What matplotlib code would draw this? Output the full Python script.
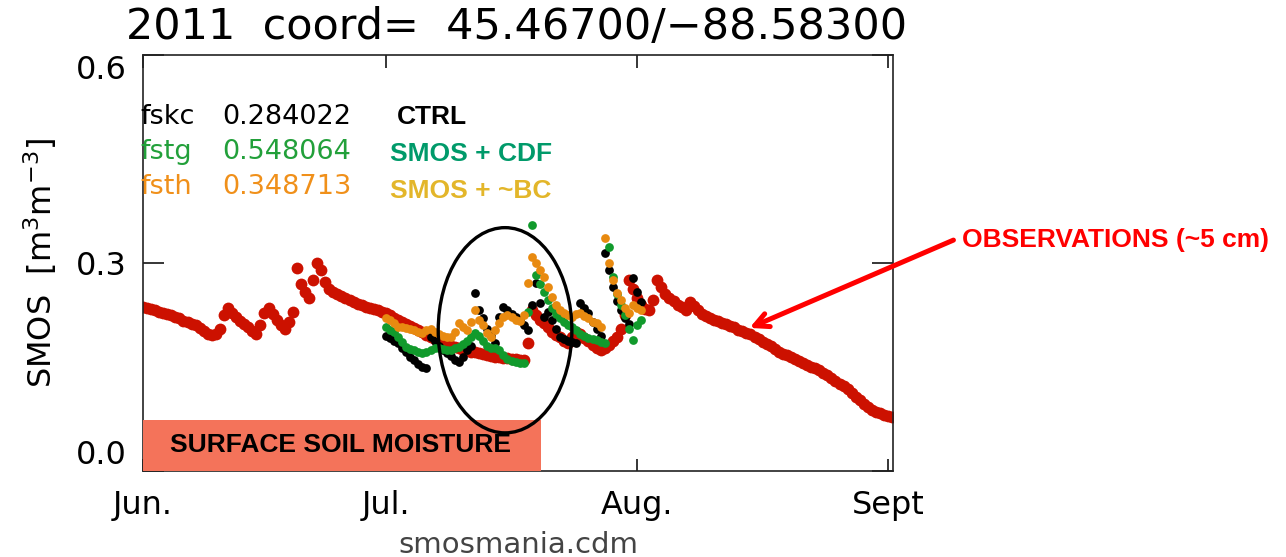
import numpy as np
import matplotlib
matplotlib.use('Agg')
import matplotlib.pyplot as plt
from matplotlib.patches import Ellipse, Rectangle

W, H = 1286, 557

# observations (~5 cm), every half day from 1 June
obs_sm = [0.237, 0.235, 0.233, 0.232, 0.230, 0.228, 0.227, 0.225, 0.222, 0.220,
          0.217, 0.215, 0.212, 0.210, 0.206, 0.202, 0.198, 0.196,
          0.197, 0.205, 0.225, 0.235,
          0.228, 0.222, 0.216, 0.212, 0.207, 0.202, 0.197,
          0.210, 0.228, 0.235,
          0.226, 0.218, 0.210, 0.205,
          0.215, 0.229, 0.293,
          0.270, 0.258, 0.250,
          0.275, 0.300, 0.290, 0.272,
          0.262, 0.258, 0.255, 0.252, 0.250, 0.247, 0.244, 0.241, 0.239, 0.237,
          0.235, 0.233, 0.232, 0.230, 0.228, 0.225, 0.221, 0.218,
          0.215, 0.212, 0.209, 0.206, 0.203, 0.200, 0.196, 0.193,
          0.190, 0.188, 0.186, 0.184, 0.181, 0.179, 0.177, 0.175,
          0.174, 0.172, 0.171, 0.170, 0.169, 0.168, 0.166, 0.165,
          0.164, 0.163, 0.163, 0.162, 0.161, 0.160, 0.160, 0.185,
          0.232, 0.225, 0.218, 0.213, 0.207, 0.201, 0.196, 0.193, 0.188, 0.185,
          0.193, 0.200, 0.197, 0.192, 0.187, 0.182, 0.178, 0.175,
          0.178, 0.182, 0.188, 0.193, 0.205, 0.225,
          0.275, 0.262, 0.250, 0.240, 0.233, 0.232,
          0.247, 0.275, 0.265, 0.256, 0.249, 0.245, 0.240, 0.236, 0.232,
          0.244, 0.238, 0.232, 0.227, 0.223, 0.220, 0.218,
          0.216, 0.214, 0.212, 0.209, 0.207, 0.204, 0.202, 0.199,
          0.197, 0.193, 0.190, 0.186, 0.183, 0.180, 0.176, 0.172,
          0.169, 0.167, 0.165, 0.162, 0.159, 0.156, 0.153, 0.150,
          0.148, 0.145, 0.141, 0.138, 0.134, 0.130, 0.126, 0.122,
          0.118, 0.112, 0.107, 0.102, 0.097, 0.092, 0.088,
          0.085, 0.083, 0.081, 0.079, 0.078]

# model runs, every half day from 1 July (day 30)
ctrl_sm = [0.195, 0.192, 0.188, 0.185, 0.178, 0.172, 0.165, 0.160, 0.155, 0.150, 0.148,
           0.193, 0.188, 0.180, 0.175, 0.170, 0.166, 0.160, 0.157,
           0.165, 0.175, 0.180,
           0.257, 0.232, 0.220, 0.205, 0.195, 0.185,
           0.222, 0.237, 0.232, 0.226, 0.222, 0.218, 0.210, 0.203,
           0.240, 0.271, 0.242, 0.222, 0.230, 0.218, 0.205, 0.193,
           0.190, 0.188, 0.186, 0.185,
           0.242, 0.235, 0.228, 0.215, 0.205, 0.195,
           0.314, 0.290, 0.265, 0.245, 0.232, 0.220, 0.212, 0.278, 0.258, 0.244]
cdf_sm = [0.208, 0.204, 0.200, 0.193, 0.186, 0.179, 0.176, 0.174, 0.172, 0.170,
          0.172, 0.175, 0.178, 0.177, 0.176, 0.175, 0.175, 0.177, 0.179, 0.183,
          0.188, 0.193, 0.199, 0.195, 0.187, 0.181, 0.178, 0.177, 0.174, 0.168,
          0.161, 0.158, 0.157, 0.156, 0.156, 0.229, 0.355, 0.283, 0.270, 0.258,
          0.247, 0.235, 0.226, 0.220, 0.215, 0.211, 0.208, 0.204, 0.198, 0.195,
          0.192, 0.190, 0.189, 0.186, 0.185, 0.323, 0.280, 0.255, 0.240, 0.225,
          0.205, 0.189, 0.210, 0.218]
bc_sm = [0.220, 0.218, 0.213, 0.208, 0.207, 0.206, 0.205, 0.203, 0.200, 0.199,
         0.203, 0.205, 0.200, 0.197, 0.195, 0.193, 0.193, 0.200, 0.213, 0.208,
         0.203, 0.215, 0.232, 0.218, 0.210, 0.199, 0.193, 0.203, 0.213, 0.222,
         0.225, 0.222, 0.218, 0.216, 0.225, 0.271, 0.309, 0.300, 0.290, 0.280,
         0.265, 0.251, 0.240, 0.232, 0.228, 0.225, 0.222, 0.226, 0.228, 0.224,
         0.220, 0.215, 0.213, 0.208, 0.336, 0.300, 0.275, 0.257, 0.247, 0.235,
         0.228, 0.240, 0.235, 0.232]

run_names = ['fskc', 'fstg', 'fsth']
run_scores = ['0.284022', '0.548064', '0.348713']
run_labels = ['CTRL', 'SMOS + CDF', 'SMOS + ~BC']
month_ticks = [0, 30, 61, 92]
month_labels = ['Jun.', 'Jul.', 'Aug.', 'Sept']

obs_day = np.arange(len(obs_sm)) * 0.5
ctrl_day = 30 + np.arange(len(ctrl_sm)) * 0.5
cdf_day = 30 + np.arange(len(cdf_sm)) * 0.5
bc_day = 30 + np.arange(len(bc_sm)) * 0.5

def px(x, y):
    return x / W, 1 - y / H

fig = plt.figure(figsize=(W / 100, H / 100), dpi=100)
ax = fig.add_axes([143 / W, 1 - 471 / H, 750 / W, 416 / H])

ax.plot(obs_day, obs_sm, 'o', color='#cc1100', ms=8.5, mew=0)
ax.plot(ctrl_day, ctrl_sm, 'o', color='black', ms=6.3, mew=0)
ax.plot(cdf_day, cdf_sm, 'o', color='#119a2c', ms=6.3, mew=0)
ax.plot(bc_day, bc_sm, 'o', color='#e88a10', ms=6.3, mew=0)

ax.set_xlim(0, 92.6)
ax.set_ylim(0, 0.6)
ax.set_xticks(month_ticks)
ax.set_xticklabels(month_labels, fontsize=23)
ax.set_yticks([0, 0.3, 0.6])
ax.set_yticklabels(['0.0', '0.3', '0.6'], fontsize=23)
ax.tick_params(axis='x', direction='in', length=9, top=True, pad=14, width=1.1)
ax.tick_params(axis='y', direction='in', length=15, right=True, pad=12, width=1.1)
ylabs = ax.get_yticklabels()
ylabs[0].set_va('bottom')
ylabs[2].set_va('top')
for s in ax.spines.values():
    s.set_linewidth(1.2)
    s.set_color('#222222')

ax.set_ylabel('SMOS  [m$^{3}$m$^{-3}$]', fontsize=23, labelpad=12)
ax.set_xlabel('smosmania.cdm', fontsize=21, color='#444444', labelpad=7)
fig.suptitle('2011  coord=  45.46700/\u221288.58300', fontsize=31, x=517 / W, y=1 - 6 / H, va='top')

# salmon box and circled region
box = Rectangle((0, 0), 49.1, 0.0736, facecolor='#f4735a', edgecolor='none', zorder=3, clip_on=False)
ax.add_patch(box)
ax.text(3.3, 0.037, 'SURFACE SOIL MOISTURE', fontsize=19, fontweight='bold',
        family='Liberation Sans', va='center', zorder=4)
ell = Ellipse((44.7, 0.203), 16.5, 0.296, fill=False, edgecolor='black', lw=2.4, zorder=5)
ax.add_patch(ell)

# run scores
run_colors = ['black', '#22a03a', '#f0901a']
label_colors = ['black', '#009a6a', '#e3b62a']
for i in range(3):
    yy = 117 + 35 * i
    fig.text(*px(140, yy), run_names[i], color=run_colors[i], fontsize=19.5, va='center')
    fig.text(*px(222, yy), run_scores[i], color=run_colors[i], fontsize=19.5, va='center')
    fig.text(*px(390 if i else 397, yy + 2 * i), run_labels[i], color=label_colors[i], fontsize=19,
             fontweight='bold', family='Liberation Sans', va='center')

fig.text(*px(962, 240), 'OBSERVATIONS (~5 cm)', color='#ff0000', fontsize=19, fontweight='bold',
         family='Liberation Sans', va='center')
ax.annotate('', xy=px(747, 329), xycoords='figure fraction', xytext=px(956, 239),
            textcoords='figure fraction',
            arrowprops=dict(arrowstyle='->,head_length=1.0,head_width=0.5', color='#ff0000', lw=3.6),
            annotation_clip=False)

fig.savefig('out.png', dpi=100)
